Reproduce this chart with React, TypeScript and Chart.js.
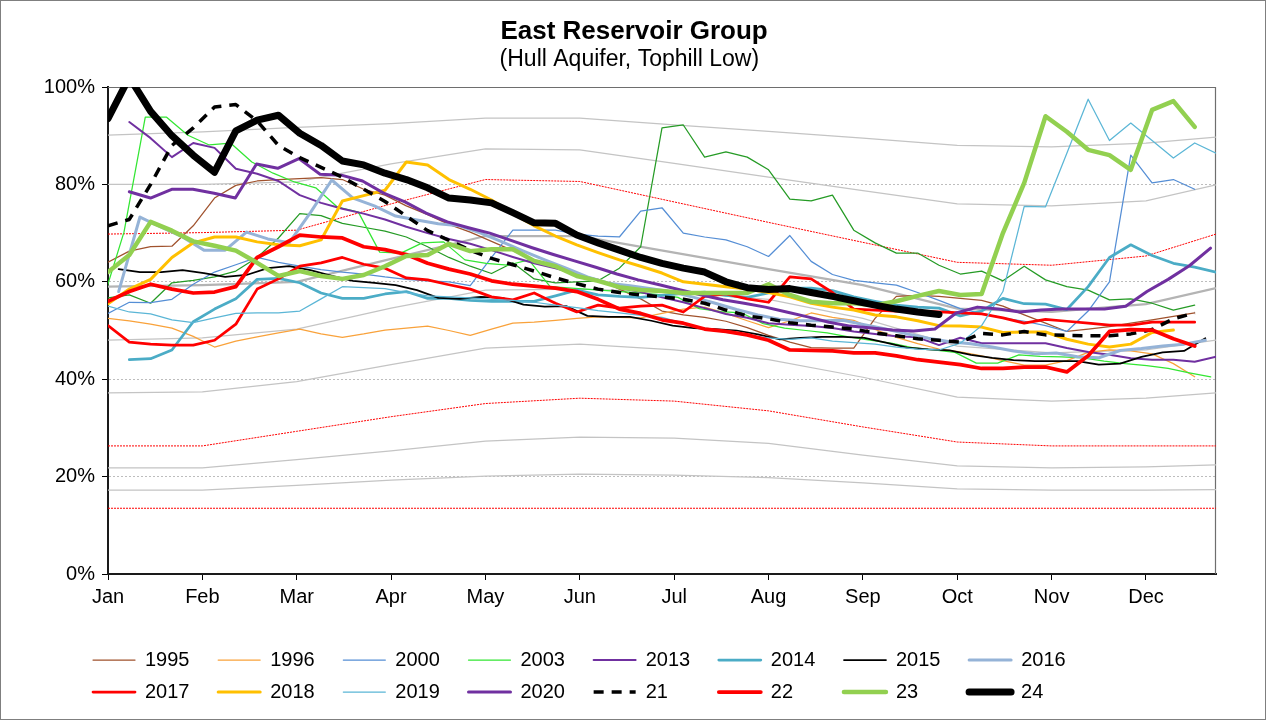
import React, { useEffect, useRef } from "react";
import { Chart, registerables } from "chart.js";

Chart.register(...registerables);

const FONT = "'Liberation Sans', Arial, Helvetica, sans-serif";

// ---- axis labels ----
const MONTHS = ["Jan", "Feb", "Mar", "Apr", "May", "Jun", "Jul", "Aug", "Sep", "Oct", "Nov", "Dec"];
const MONTH_WEEKS = MONTHS.map((_, i) => (i * 31) / 7);
const BG_WEEKS = [...MONTH_WEEKS, 52];
const Y_TICKS = [0, 20, 40, 60, 80, 100];

// ---- background envelope curves (values at month starts + year end) ----
const grey1 = [90.1, 90.8, 91.7, 92.5, 93.6, 93.6, 92.2, 90.9, 89.5, 88.0, 87.7, 88.5, 89.7];
const grey2 = [80, 80, 80.5, 84.2, 87.3, 87.1, 84.3, 81.5, 78.7, 76, 75.6, 76.6, 79.9];
const grey3 = [59, 59.3, 60, 64.7, 69.4, 69.4, 66, 62.6, 59.3, 54.5, 53.8, 55.4, 58.7];
const grey4 = [48, 48.5, 50.3, 54.6, 58.3, 58.5, 57.9, 56.4, 52.5, 46.8, 45.4, 46, 48];
const grey5 = [37.2, 37.4, 39.5, 43, 46.4, 47.2, 46, 44, 40.4, 36.3, 35.5, 36.1, 37.2];
const grey6 = [21.8, 21.8, 23.5, 25.3, 27.3, 28.1, 27.9, 26.8, 24.4, 22.2, 21.8, 22, 22.4];
const grey7 = [17.2, 17.2, 18.2, 19.3, 20.1, 20.5, 20.3, 19.8, 18.7, 17.5, 17.2, 17.2, 17.3];
const control1 = [69.8, 70.1, 70.6, 76, 81, 80.6, 76.4, 72.2, 68.1, 64, 63.4, 65.3, 69.8];
const control2 = [26.3, 26.3, 29.3, 32.3, 35, 36.1, 35.5, 33.5, 30.2, 27.1, 26.3, 26.3, 26.3];
const control3 = [13.5, 13.5, 13.5, 13.5, 13.5, 13.5, 13.5, 13.5, 13.5, 13.5, 13.5, 13.5, 13.5];

// ---- weekly storage (%), first value at the given start week ----
const y2012 = [56.7, 57.3, 55.6, 59.8, 60.3, 61, 62.2, 65, 69, 74, 73.6, 72, 71.2, 70.4, 69.2, 67.2, 65, 63.2, 61.7, 63.9, 60.6, 59.8, 60, 60.2, 62.8, 67.2, 91.6, 92.2, 85.6, 86.7, 85.6, 83, 77, 76.6, 77.8, 70.6, 68, 65.9, 65.9, 63.4, 61.6, 62.2, 60.2, 63.2, 60.4, 59, 58.3, 56.3, 56.5, 55.6, 54.2, 55.2];
const y1995 = [64, 66.3, 67.2, 67.3, 71.5, 77.2, 79.8, 80.7, 81, 81.2, 81.4, 81, 79, 77.8, 75.6, 73.8, 71.8, 70.2, 68.3, 66.4, 64.4, 63, 61.5, 60.5, 58.5, 56.5, 54, 53.2, 52.7, 51.9, 50.6, 49, 47.6, 46.5, 46.4, 46.4, 52.5, 57, 57.2, 57, 56.6, 56.2, 55, 53.2, 51.5, 49.8, 50.3, 50.8, 51.5, 52.2, 52.9, 53.6];
const y1996 = [52.5, 52, 51.3, 50.5, 48.8, 46.6, 47.8, 48.7, 49.5, 50.3, 49.3, 48.6, 49.3, 50.1, 50.5, 50.9, 50, 49, 50.3, 51.5, 51.7, 52.1, 52.5, 52.8, 52.7, 52.6, 53.5, 54.4, 54.8, 53.5, 52, 50.6, 52, 53.6, 52.7, 52.1, 50.2, 48.6, 47.3, 46.2, 45.6, 44.8, 43.8, 42.9, 42.9, 43.8, 45.5, 46, 45.8, 45.2, 43.2, 40.5];
const y2000 = [53.5, 55.8, 55.7, 56.4, 59.5, 62, 63.5, 65, 64, 63.2, 62.5, 62, 61.6, 61, 60.5, 60.2, 60, 59.2, 65, 70.6, 70.6, 70.6, 69.8, 69.4, 69.2, 74.5, 75.2, 70, 69.2, 68.6, 67.2, 65.2, 69.5, 64.2, 61.5, 60.3, 59.8, 59.3, 57.8, 56.2, 54.5, 53.5, 52.6, 51.9, 51, 49.8, 54, 60, 86, 80.3, 81, 79];
const y2003 = [56, 70.2, 93.8, 93.8, 90.1, 88.1, 88.5, 84.6, 82.3, 80.5, 79.3, 75.4, 74.3, 66.1, 65.9, 68, 68.2, 64.5, 63.8, 63.4, 64.5, 59, 58.7, 58.4, 58.1, 57.8, 57.4, 56.8, 54.5, 53.9, 53.6, 51.4, 50.5, 50, 49.5, 48.7, 48, 47.4, 46.5, 46, 45.5, 43.3, 43.3, 45, 44.7, 44.6, 44.4, 43.7, 43.2, 42.8, 42.2, 41.3, 40.5];
const y2013 = [92.8, 89.5, 85.6, 88.5, 87.5, 83.2, 82.2, 80.7, 77.8, 76.2, 75, 74, 72.8, 71.3, 70, 68.8, 67.8, 66.5, 65.1, 63.8, 62.8, 61.6, 60.2, 58.8, 57.9, 56.8, 55.8, 54.6, 53.4, 52.6, 51.5, 51.2, 50.9, 50.5, 49.8, 49.3, 48.8, 48.6, 47, 48.5, 47.4, 47.4, 47.4, 47.4, 46.4, 45.6, 45, 44.3, 44, 44, 43.6, 44.6];
const y2014 = [44, 44.2, 46, 51.8, 54.4, 56.5, 60.5, 60.7, 59.8, 57.7, 56.6, 56.6, 57.5, 58, 56.6, 56.6, 56.2, 56, 56, 56, 57.1, 58.3, 57.3, 57, 56.8, 57.2, 57.6, 57.9, 57.2, 56.8, 57.7, 58.7, 58.7, 58.2, 56.9, 56, 55.2, 54.8, 54.6, 53, 54, 56.6, 55.5, 55.4, 54.3, 59, 65, 67.6, 65.4, 63.8, 63, 62];
const y2015 = [62.6, 62, 62, 62.4, 61.8, 61, 61.4, 62.8, 63.2, 62.4, 61.2, 60.2, 59.8, 59.3, 58.3, 56.7, 56.5, 56.9, 56.7, 55.3, 54.9, 55, 53, 52.8, 52.8, 52, 51, 50.5, 50.3, 50, 49.2, 48.2, 48.5, 48.7, 48.7, 48.5, 47.5, 46.5, 46.1, 45.9, 45, 44.4, 43.9, 43.7, 43.7, 43.7, 43, 43.2, 44.6, 45.5, 45.8, 48.4];
const y2016 = [58, 73.3, 71.2, 69.2, 66.5, 66.5, 70.2, 68.8, 68, 74.2, 80.9, 77.2, 75.6, 73.5, 72.7, 71.9, 71.5, 70, 68.2, 66.3, 64.5, 62.8, 61, 59.7, 59.2, 58.6, 57.9, 56.8, 55.6, 54.3, 53.2, 52.3, 52, 52, 52.1, 51.2, 50.3, 49.3, 48.4, 47.7, 47.3, 46.6, 45.8, 45.2, 45.4, 44.6, 44.4, 45.9, 46.3, 46.8, 47.2, 48];
const y2017 = [51, 47.6, 47.2, 47, 47, 48, 51.3, 58.5, 60.6, 63.2, 63.9, 65, 63.6, 62.8, 60.8, 60.4, 59.4, 58.5, 56.9, 56.3, 57.7, 55.6, 53.8, 55.2, 54.6, 55, 55.2, 53.8, 57, 57.5, 56.5, 55.8, 61, 60.6, 57.8, 54.4, 54.2, 54, 54, 53.8, 53.6, 53.4, 52.6, 51.5, 52.3, 51.9, 51.5, 51.1, 51.1, 51.7, 51.7, 51.7];
const y2018 = [55.5, 58.5, 60.5, 65, 68, 69.2, 69.2, 68.2, 67.6, 67.4, 68.6, 76.6, 77.7, 78.8, 84.6, 84, 81, 79, 76.8, 74, 71.5, 69.4, 67.6, 66, 64.5, 63.2, 61.8, 60, 59.5, 59, 58.5, 57.8, 56.9, 55.6, 54.8, 54.2, 53.2, 52.8, 52, 51, 50.9, 50.7, 49.6, 49.7, 49.7, 48.2, 47.2, 46.6, 47.2, 49.6, 50.1];
const y2019 = [55, 53.8, 53.4, 52.2, 51.6, 52.6, 53.5, 53.6, 53.6, 54, 56.5, 59, 58.8, 58.6, 57.8, 57.1, 56.9, 56.7, 56.4, 56.2, 55.8, 55.2, 54.7, 54.1, 53.6, 53.1, 52.7, 51.5, 50.4, 49.6, 49, 48.5, 48.2, 48.5, 47.8, 47.5, 47.2, 46.6, 46.2, 46, 47.4, 51, 58, 75.5, 75.4, 86.4, 97.5, 89, 92.6, 89, 85.4, 88.5, 86.4];
const y2020 = [78.5, 77.2, 79, 79, 78.2, 77.2, 84.2, 83.3, 85.3, 82.1, 81.9, 80.7, 78.2, 76.4, 74.1, 72.3, 71.1, 70, 68.5, 67, 65.6, 64.3, 63, 61.6, 60.4, 59.4, 58.3, 57.3, 56.3, 55.6, 54.8, 53.8, 52.8, 51.7, 50.9, 50.5, 50.1, 49.9, 50.3, 53.6, 54.8, 54.4, 53.8, 54.2, 54.4, 54.4, 54.4, 55, 58, 60.5, 63.3, 66.9];
const y21 = [71.5, 72.8, 80, 88, 91.6, 95.9, 96.4, 93, 88, 85.5, 83.5, 81.5, 79, 76.5, 73.5, 70.5, 68.5, 66.5, 64.8, 63.5, 62.2, 60.8, 59.6, 58.5, 57.8, 57.3, 56.9, 56.4, 55.6, 54.2, 53, 52.4, 51.6, 51.1, 50.7, 50.3, 49.5, 48.9, 48.3, 48, 47.6, 49.4, 49.1, 49.8, 49.1, 49, 48.9, 48.9, 49.3, 50.2, 52.4, 53.6];
const y22 = [56, 58, 59.5, 58.5, 57.7, 57.9, 59, 65, 67.2, 69.6, 69.2, 69, 67.2, 66.6, 65.6, 63.8, 62.6, 61.6, 60.2, 59.5, 59.1, 58.7, 58, 56.4, 54.4, 53.5, 52.2, 51.5, 50.3, 49.8, 49.1, 48, 46, 45.9, 45.8, 45.4, 45.4, 44.8, 44, 43.5, 43, 42.2, 42.2, 42.5, 42.5, 41.5, 44.8, 49.8, 50.2, 50.1, 48.3, 46.8];
const y23 = [62, 65.5, 72.3, 70.5, 68.3, 67.4, 66.4, 63.9, 61.2, 62.2, 61.2, 60.6, 61.4, 63.2, 65.3, 65.5, 67.8, 66.3, 66.7, 66.7, 64.3, 63.2, 61.2, 60.2, 58.9, 58.3, 58.1, 57.7, 57.7, 57.7, 57.7, 59.5, 57.3, 55.9, 55.6, 55.6, 55.2, 56, 57.1, 58.1, 57.3, 57.5, 70, 80.3, 94, 90.8, 87.1, 86, 83, 95.3, 97.1, 91.8];
const y24 = [93.5, 102, 95, 90, 86, 82.5, 91, 93.2, 94.2, 90.5, 88, 84.8, 84, 82.3, 81, 79.3, 77.2, 76.8, 76.2, 74.2, 72.1, 72, 69.6, 68, 66.5, 65, 63.8, 62.8, 62, 60, 58.8, 58.4, 58.6, 57.8, 57, 56.1, 55.2, 54.4, 53.8, 53.3];

const toPts = (vals: number[], start: number, step: number) => vals.map((v, i) => ({ x: start + i * step, y: v }));
const toBg = (vals: number[]) => vals.map((v, i) => ({ x: BG_WEEKS[i], y: v }));

type Spec = { label: string; vals: number[]; start: number; step?: number; color: string; width: number; dash?: number[]; legend: boolean };

const YEARS: Spec[] = [
  { label: "2012", vals: y2012, start: 0, color: "#259B25", width: 1.25, legend: false },
  { label: "1995", vals: y1995, start: 0, color: "#A0522D", width: 1.25, legend: true },
  { label: "1996", vals: y1996, start: 0, color: "#F9A23B", width: 1.25, legend: true },
  { label: "2000", vals: y2000, start: 0, color: "#558ED5", width: 1.25, legend: true },
  { label: "2003", vals: y2003, start: -0.25, color: "#33E633", width: 1.25, legend: true },
  { label: "2013", vals: y2013, start: 1, color: "#7030A0", width: 2, legend: true },
  { label: "2014", vals: y2014, start: 1, color: "#4BACC6", width: 2.75, legend: true },
  { label: "2015", vals: y2015, start: 0.5, color: "#000000", width: 1.75, legend: true },
  { label: "2016", vals: y2016, start: 0.5, color: "#95B3D7", width: 3, legend: true },
  { label: "2017", vals: y2017, start: 0, color: "#FF0000", width: 2.75, legend: true },
  { label: "2018", vals: y2018, start: 0, color: "#FFC000", width: 3, legend: true },
  { label: "2019", vals: y2019, start: 0, color: "#5BB6D6", width: 1.25, legend: true },
  { label: "2020", vals: y2020, start: 1, step: 0.995, color: "#7030A0", width: 3, legend: true },
  { label: "21", vals: y21, start: 0, color: "#000000", width: 3.5, dash: [10, 8], legend: true },
  { label: "22", vals: y22, start: 0, color: "#FF0000", width: 3.75, legend: true },
  { label: "23", vals: y23, start: 0, color: "#92D050", width: 4.5, legend: true },
  { label: "24", vals: y24, start: 0, color: "#000000", width: 7, legend: true },
];

const BACKGROUND = [
  { label: "g1", vals: grey1, color: "#C4C4C4", width: 1.25, dash: [] as number[] },
  { label: "g2", vals: grey2, color: "#C4C4C4", width: 1.25, dash: [] as number[] },
  { label: "g3", vals: grey3, color: "#B4B4B4", width: 2.25, dash: [] as number[] },
  { label: "g4", vals: grey4, color: "#C4C4C4", width: 1.25, dash: [] as number[] },
  { label: "g5", vals: grey5, color: "#C4C4C4", width: 1.25, dash: [] as number[] },
  { label: "g6", vals: grey6, color: "#C4C4C4", width: 1.25, dash: [] as number[] },
  { label: "g7", vals: grey7, color: "#C4C4C4", width: 1.25, dash: [] as number[] },
  { label: "c1", vals: control1, color: "#FF0000", width: 1, dash: [2, 1] },
  { label: "c2", vals: control2, color: "#FF0000", width: 1, dash: [2, 1] },
  { label: "c3", vals: control3, color: "#FF0000", width: 1, dash: [2, 1] },
];

const padLabel = (s: string) => s + " ".repeat(s.length <= 2 ? 7 : 3);

const framePlugin = {
  id: "plotFrame",
  afterLayout(chart: any) {
    // give the y tick labels room to the left of the narrow axis box
    const y = chart.scales.y;
    if (y) y.left = 10;
  },
  beforeDatasetsDraw(chart: any) {
    const { ctx, chartArea } = chart;
    const { left, right, top, bottom } = chartArea;
    ctx.save();
    ctx.strokeStyle = "#6E6E6E";
    ctx.lineWidth = 1.2;
    ctx.beginPath();
    ctx.moveTo(left, top + 0.5);
    ctx.lineTo(right - 0.5, top + 0.5);
    ctx.lineTo(right - 0.5, bottom);
    ctx.stroke();
    ctx.restore();
  },
};

export default function App() {
  const ref = useRef<HTMLCanvasElement | null>(null);

  useEffect(() => {
    if (!ref.current) return;
    const datasets: any[] = [];
    BACKGROUND.forEach((b) => {
      datasets.push({
        label: b.label,
        data: toBg(b.vals),
        borderColor: b.color,
        backgroundColor: b.color,
        borderWidth: b.width,
        borderDash: b.dash,
        pointRadius: 0,
        pointHoverRadius: 0,
        tension: 0,
        clip: 0,
        inLegend: false,
      });
    });
    YEARS.forEach((s) => {
      datasets.push({
        label: s.label,
        data: toPts(s.vals, s.start, s.step || 1),
        borderColor: s.color,
        backgroundColor: s.color,
        borderWidth: s.width,
        borderDash: s.dash || [],
        borderCapStyle: s.dash ? "butt" : "round",
        borderJoinStyle: "round",
        pointRadius: 0,
        pointHoverRadius: 0,
        tension: 0,
        clip: 0,
        inLegend: s.legend,
      });
    });
    const n = datasets.length;
    datasets.forEach((d, i) => (d.order = n - i));

    const chart = new Chart(ref.current, {
      type: "line",
      data: { datasets },
      plugins: [framePlugin],
      options: {
        animation: false,
        responsive: false,
        devicePixelRatio: 1,
        events: [],
        layout: { padding: { left: 80, right: 49, top: 0, bottom: 7 } },
        scales: {
          x: {
            type: "linear",
            min: 0,
            max: 52,
            afterFit: (scale: any) => {
              scale.height = 64;
            },
            afterBuildTicks: (scale: any) => {
              scale.ticks = MONTH_WEEKS.map((v) => ({ value: v }));
            },
            ticks: {
              autoSkip: false,
              maxRotation: 0,
              minRotation: 0,
              padding: 5,
              color: "#000",
              font: { family: FONT, size: 20 },
              callback: (_v: any, i: number) => MONTHS[i],
            },
            grid: { drawOnChartArea: false, drawTicks: true, tickLength: 6, tickColor: "#000", tickWidth: 1 },
            border: { display: true, color: "#1A1A1A", width: 2 },
          },
          y: {
            type: "linear",
            min: 0,
            max: 100,
            afterFit: (scale: any) => {
              scale.width = 27;
            },
            afterBuildTicks: (scale: any) => {
              scale.ticks = Y_TICKS.map((v) => ({ value: v }));
            },
            ticks: {
              padding: 7,
              color: "#000",
              font: { family: FONT, size: 20 },
              callback: (v: any) => `${v}%`,
            },
            grid: { color: "#BDBDBD", lineWidth: 1, drawTicks: true, tickLength: 6, tickColor: "#000", tickWidth: 1 },
            border: { display: true, color: "#1A1A1A", width: 2, dash: [2, 2] },
          },
        },
        plugins: {
          tooltip: { enabled: false },
          title: {
            display: true,
            text: "East Reservoir Group    ",
            color: "#000",
            font: { family: FONT, size: 26, weight: "bold", lineHeight: 1 },
            padding: { top: 18, bottom: 0 },
          },
          subtitle: {
            display: true,
            text: "(Hull Aquifer, Tophill Low)      ",
            color: "#000",
            font: { family: FONT, size: 23, lineHeight: 1 },
            padding: { top: 3.5, bottom: 15.5 },
          },
          legend: {
            display: true,
            position: "bottom",
            align: "start",
            labels: {
              usePointStyle: true,
              pointStyle: "line",
              pointStyleWidth: 42,
              boxWidth: 42,
              padding: 12,
              color: "#000",
              font: { family: FONT, size: 20 },
              generateLabels: (ch: any) =>
                ch.data.datasets
                  .map((ds: any, i: number) => ({
                    text: padLabel(ds.label),
                    fillStyle: ds.borderColor,
                    strokeStyle: ds.borderColor,
                    lineWidth: ds.borderWidth,
                    lineDash: ds.borderDash || [],
                    lineCap: ds.borderDash && ds.borderDash.length ? "butt" : "round",
                    pointStyle: "line",
                    fontColor: "#000",
                    hidden: false,
                    datasetIndex: i,
                  }))
                  .filter((item: any) => ch.data.datasets[item.datasetIndex].inLegend),
            },
          },
        },
      } as any,
    });
    return () => chart.destroy();
  }, []);

  return (
    <div
      style={{
        position: "absolute",
        left: 0,
        top: 0,
        width: 1266,
        height: 720,
        boxSizing: "border-box",
        border: "1px solid #7F7F7F",
        background: "#fff",
      }}
    >
      <canvas ref={ref} width={1264} height={718} style={{ display: "block", width: 1264, height: 718 }} />
    </div>
  );
}
